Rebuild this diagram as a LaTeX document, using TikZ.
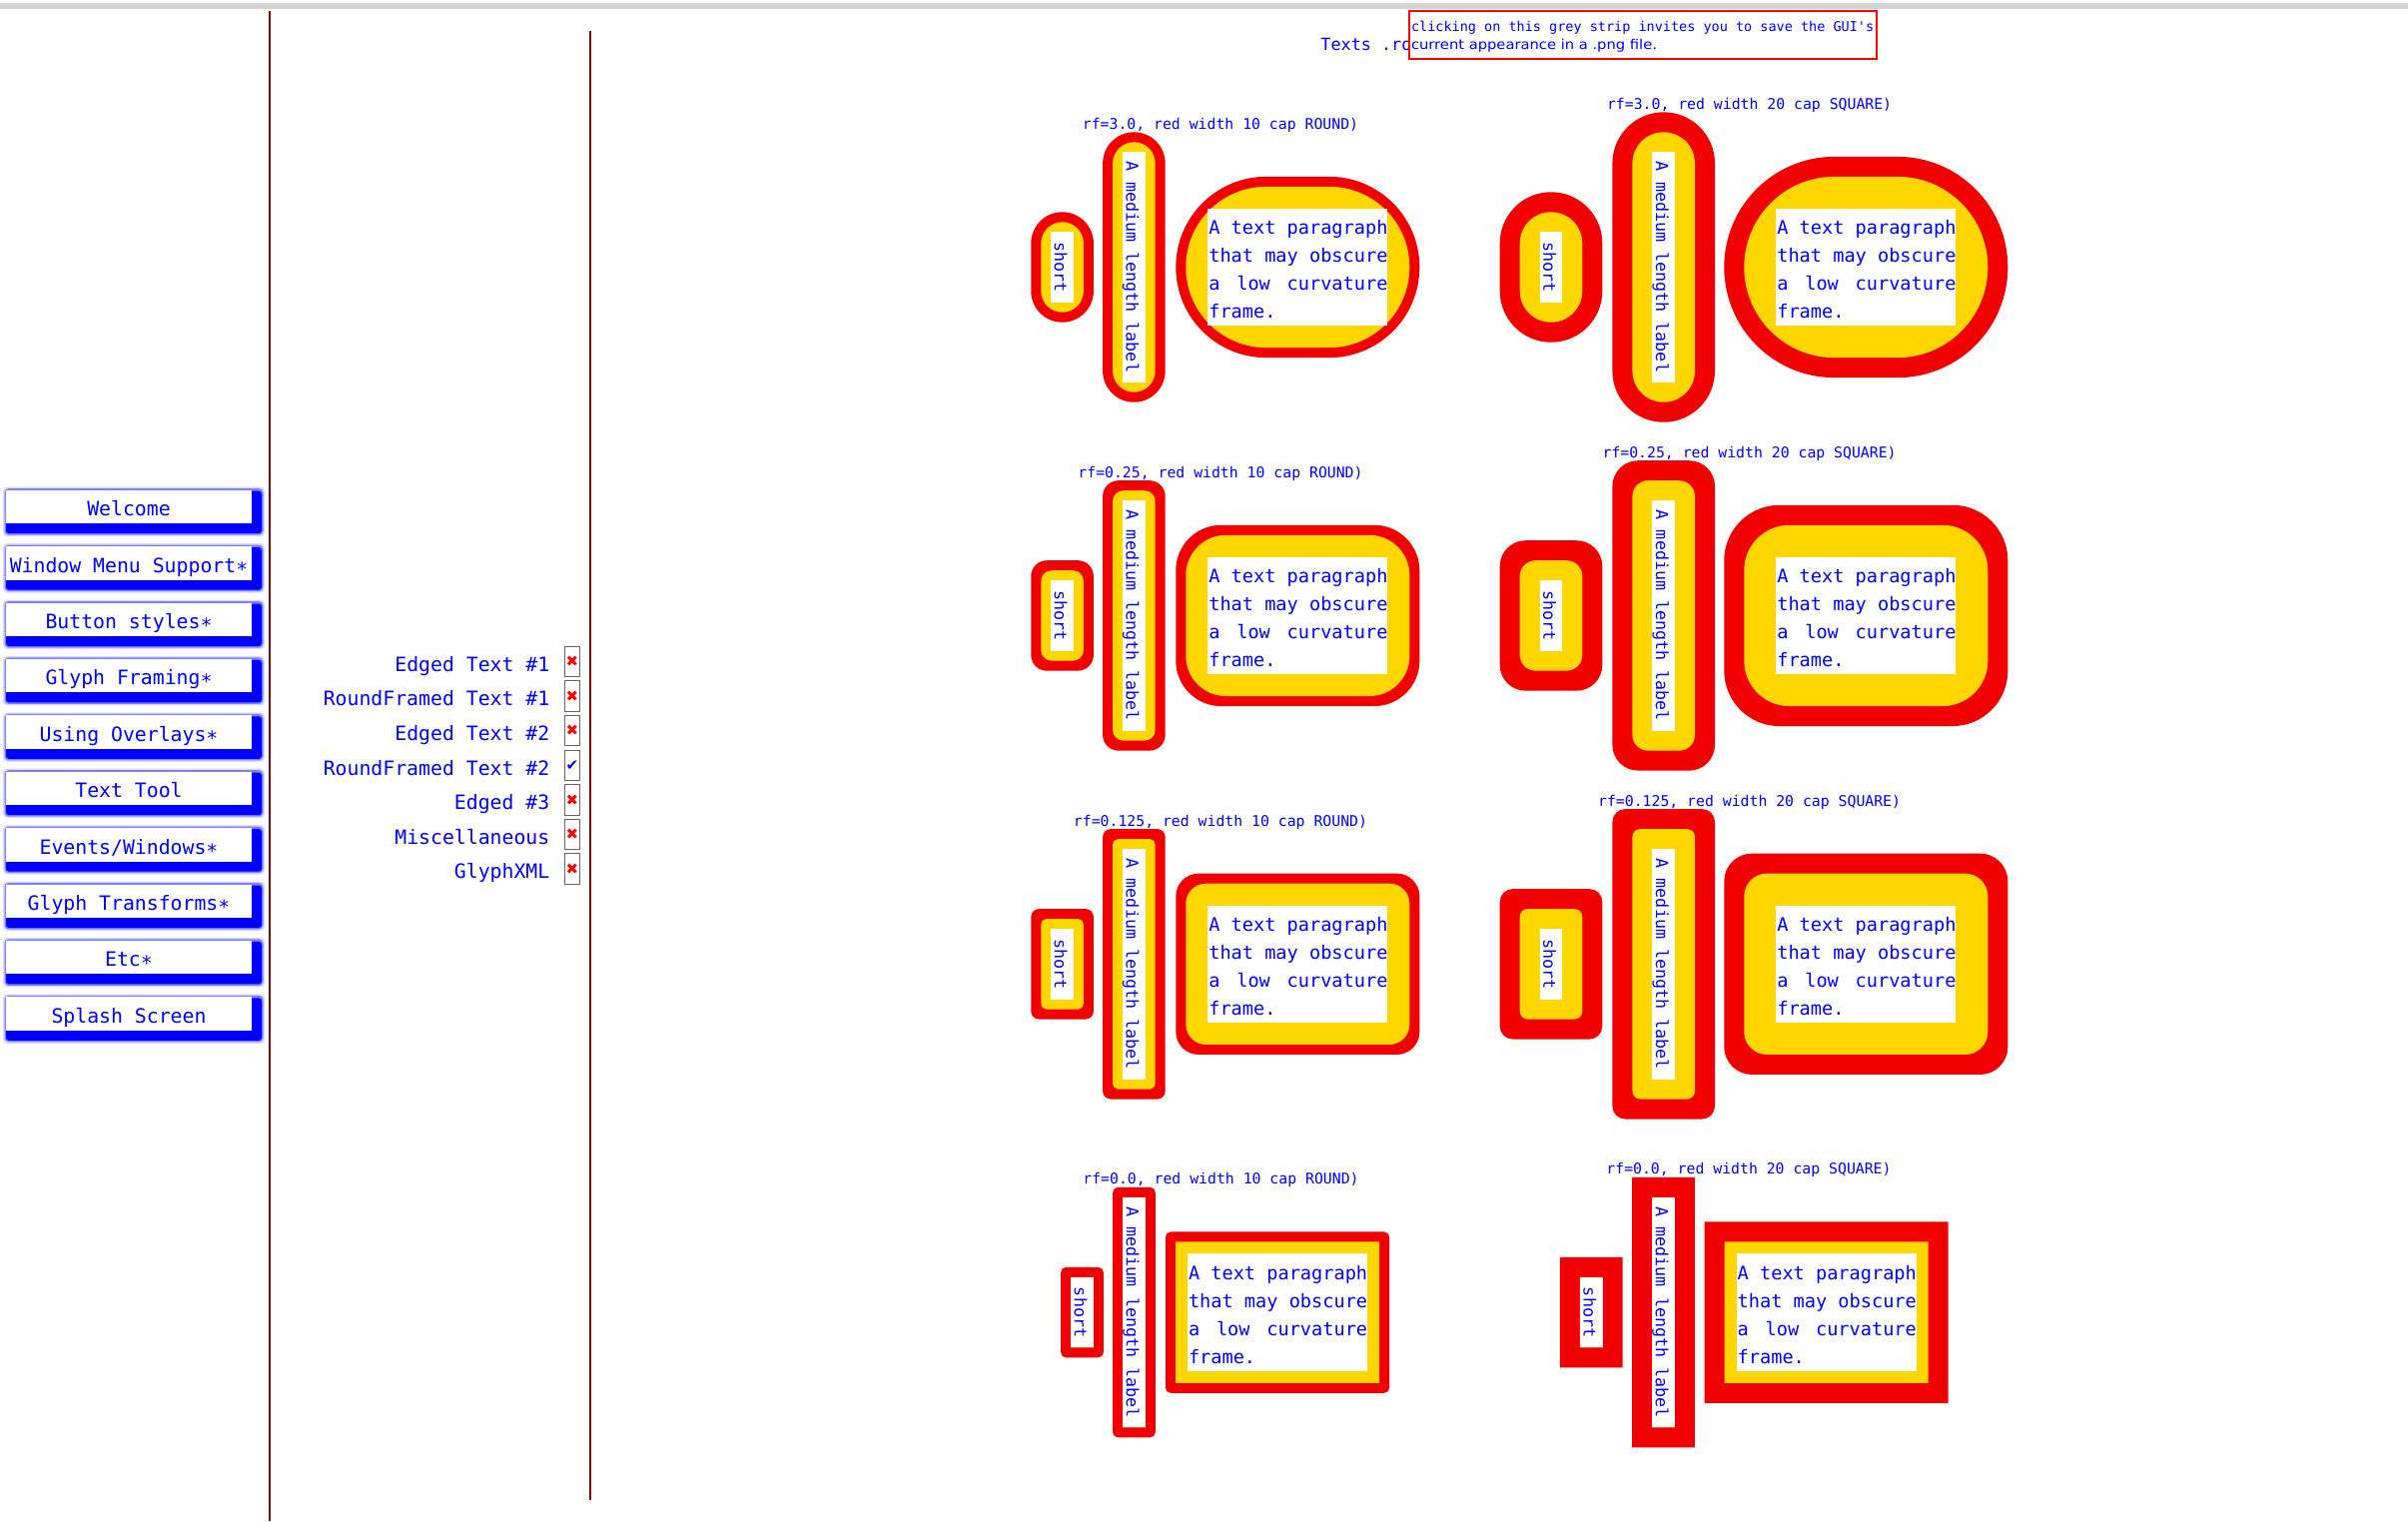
\documentclass[tikz,border=0pt]{standalone}
\usepackage{fontspec}
\usepackage{graphicx}
\newfontfamily\mono{DejaVu Sans Mono}
\newfontfamily\dsans{DejaVu Sans}
\definecolor{fred}{RGB}{240,0,0}
\definecolor{fyel}{RGB}{255,215,0}
\definecolor{tblue}{RGB}{0,0,245}
\definecolor{lineRed}{RGB}{139,0,0}
\definecolor{stripgrey}{RGB}{212,212,212}

% one framed shape: cx cy whiteW whiteH pad strokeW rf joinRadius
\newcommand\rfshape[8]{%
  \pgfmathsetmacro\rfhwi{#3/2+#5}%
  \pgfmathsetmacro\rfhhi{#4/2+#5}%
  \pgfmathsetmacro\rfhwo{\rfhwi+#6}%
  \pgfmathsetmacro\rfhho{\rfhhi+#6}%
  \pgfmathsetmacro\rfc{min(#7,0.4995)}%
  \pgfmathsetmacro\rfro{max(\rfc*2*min(\rfhwo,\rfhho),#8)*0.5}%
  \pgfmathsetmacro\rfri{max(\rfc*2*min(\rfhwi,\rfhhi),0.02)*0.5}%
  \fill[fred,rounded corners=\rfro pt] (#1-\rfhwo,#2-\rfhho) rectangle (#1+\rfhwo,#2+\rfhho);
  \fill[fyel,rounded corners=\rfri pt] (#1-\rfhwi,#2-\rfhhi) rectangle (#1+\rfhwi,#2+\rfhhi);
  \fill[white] (#1-#3/2,#2-#4/2) rectangle (#1+#3/2,#2+#4/2);
}

\newcommand\paratext{\setbox0=\hbox{A text paragraph}\vtop{\copy0\hbox{that may obscure}\hbox to\wd0{a\hfil\ low\hfil\ curvature}\hbox{frame.}}}

% group: prefix cy rf strokeW labelPad joinRadius xShort xMedium xPara
\newcommand\rfgroup[9]{%
  \rfshape{#7}{#2}{22.6}{70.4}{#5}{#4}{#3}{#6}%
  \rfshape{#8}{#2}{22.6}{230.4}{#5}{#4}{#3}{#6}%
  \pgfmathsetmacro\rfpp{#5+12}%
  \rfshape{#9}{#2}{180}{117.3}{\rfpp}{#4}{#3}{#6}%
  \node[lbl,rotate=-90,anchor=base] (#1s) at (#7-7.7,#2) {short};
  \node[lbl,rotate=-90,anchor=base] (#1m) at (#8-7.7,#2) {A medium length label};
  \node[para,anchor=base west] (#1p) at (#9-89.4,#2-32.65) {\paratext};
}

\begin{document}
\begin{tikzpicture}[x=0.5pt,y=-0.5pt,
  lbl/.style={inner sep=0pt,text=tblue,font=\fontsize{8.35}{10}\mono},
  para/.style={inner sep=0pt,text=tblue,font=\fontsize{9.3}{14}\mono},
  captxt/.style={inner sep=0pt,text=tblue,font=\fontsize{7.4}{9}\mono,anchor=base},
  btntext/.style={inner sep=0pt,text=tblue,font=\fontsize{9.9}{12}\mono,anchor=base},
  chk/.style={inner sep=0pt,text=tblue,font=\fontsize{9.9}{12}\mono,anchor=base east},
  mk/.style={inner sep=0pt,font=\fontsize{7.5}{8}\dsans},
]
\useasboundingbox (0,0) rectangle (2411,1523);
\fill[white] (0,0) rectangle (2411,1523);

% grey strip
\fill[stripgrey] (0,2.7) rectangle (2411,8.5);

% separators
\draw[lineRed,line width=0.7pt] (270,11) -- (270,1523);
\draw[lineRed!85!black,line width=1pt] (590.6,31) -- (590.6,1502);

% buttons
\foreach \t [count=\i from 0] in {Welcome,Window Menu Support∗,Button styles∗,Glyph Framing∗,Using Overlays∗,Text Tool,Events/Windows∗,Glyph Transforms∗,Etc∗,Splash Screen} {
  \pgfmathsetmacro\yt{490.7+56.4*\i}
  \fill[blue!15,rounded corners=2pt] (3,\yt-3) rectangle (265,\yt+46.5);
  \fill[blue!50,rounded corners=2pt] (4.5,\yt-1.5) rectangle (263.5,\yt+45);
  \fill[blue,rounded corners=1.5pt] (6,\yt+1) rectangle (262,\yt+43.5);
  \fill[white] (6,\yt) rectangle (252,\yt+33.5);
  \node[btntext] (btn\i) at (129,\yt+26) {\t};
}

% check list
\foreach \t/\c/\g [count=\i from 0] in {Edged Text \#1/red/✖,RoundFramed Text \#1/red/✖,Edged Text \#2/red/✖,RoundFramed Text \#2/tblue/✔,Edged \#3/red/✖,Miscellaneous/red/✖,GlyphXML/red/✖} {
  \pgfmathsetmacro\yc{647.3+34.6*\i}
  \draw[black!60,line width=0.5pt] (565.7,\yc) rectangle (580,\yc+30.4);
  \node[chk] (chk\i) at (550.7,\yc+25) {\t};
  \node[mk,text=\c] (mk\i) at (572.9,\yc+15.2) {\g};
}

% tooltip
\node[inner sep=0pt,text=tblue,font=\fontsize{8.4}{10}\mono,anchor=base west] (texts) at (1322,50) {Texts .ro};
\node[draw=red,fill=white,line width=1pt,inner sep=0pt,minimum width=234pt,minimum height=23.7pt,anchor=north west] (tip) at (1410,10.3) {};
\node[inner sep=0pt,text=tblue,font=\fontsize{6.75}{8}\mono,anchor=base west] (tipa) at (1412.6,31) {clicking on this grey strip invites you to save the GUI\char39 s};
\node[inner sep=0pt,text=tblue,font=\fontsize{6.75}{8}\dsans,anchor=base west] (tipb) at (1412.6,49) {\scalebox{1.09}[1]{current appearance in a .png file.}};

% groups
\rfgroup{aL}{267.5}{3.0}{10}{10}{0.02}{1063.6}{1135.4}{1299.3}
\rfgroup{aR}{267.5}{3.0}{20}{20}{0.02}{1553}{1665.7}{1868.3}
\rfgroup{bL}{616.4}{0.25}{10}{10}{0.02}{1063.6}{1135.4}{1299.3}
\rfgroup{bR}{616.4}{0.25}{20}{20}{0.02}{1553}{1665.7}{1868.3}
\rfgroup{cL}{965.3}{0.125}{10}{10}{0.02}{1063.6}{1135.4}{1299.3}
\rfgroup{cR}{965.3}{0.125}{20}{20}{0.02}{1553}{1665.7}{1868.3}
\rfgroup{dL}{1314.1}{0}{10}{0}{5}{1083.5}{1135.5}{1279}
\rfgroup{dR}{1314.1}{0}{20}{0}{0.02}{1593.2}{1665.5}{1828.7}

% captions
\node[captxt] (capaL) at (1222,129.3) {rf=3.0, red width 10 cap ROUND)};
\node[captxt] (capaR) at (1751.6,109.3) {rf=3.0, red width 20 cap SQUARE)};
\node[captxt] (capbL) at (1222,478.2) {rf=0.25, red width 10 cap ROUND)};
\node[captxt] (capbR) at (1751.6,458.2) {rf=0.25, red width 20 cap SQUARE)};
\node[captxt] (capcL) at (1222,827.1) {rf=0.125, red width 10 cap ROUND)};
\node[captxt] (capcR) at (1751.6,807.1) {rf=0.125, red width 20 cap SQUARE)};
\node[captxt] (capdL) at (1222.5,1185.9) {rf=0.0, red width 10 cap ROUND)};
\node[captxt] (capdR) at (1751,1175.9) {rf=0.0, red width 20 cap SQUARE)};
\end{tikzpicture}
\end{document}
